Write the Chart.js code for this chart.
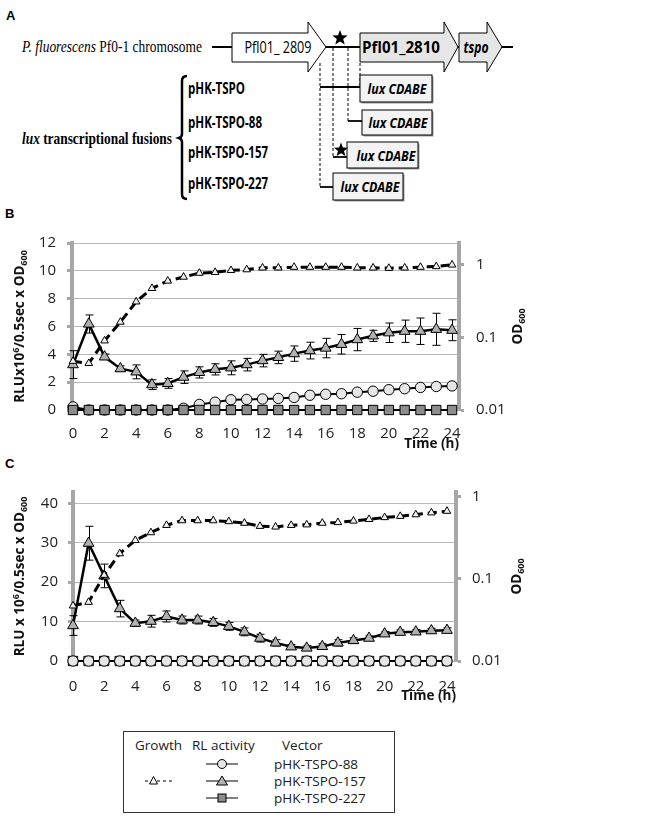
<!DOCTYPE html>
<html>
<head>
<meta charset="utf-8">
<script src="https://cdn.jsdelivr.net/npm/chart.js@4.4.1/dist/chart.umd.min.js"></script>
<style>
  body { margin: 0; background: #fff; }
  #page { position: relative; width: 666px; height: 820px; overflow: hidden; }
  #art { position: absolute; left: 0; top: 0; }
  canvas { position: absolute; }
</style>
</head>
<body>
<div id="page">
  <svg id="art" width="666" height="820" xmlns="http://www.w3.org/2000/svg">
    <!-- panel A: gene map -->
    <text x="6" y="20" font-family="Liberation Sans, Arial" font-weight="bold" font-size="13">A</text>
    <text x="22" y="52" font-family="Liberation Serif" font-size="16" textLength="180" lengthAdjust="spacingAndGlyphs"><tspan font-style="italic">P. fluorescens</tspan> Pf0-1 chromosome</text>
    <line x1="212" y1="47" x2="513" y2="47" stroke="#000" stroke-width="2"/>
    <polygon points="232,33 308,33 308,22 326,47 308,72 308,62 232,62" fill="#fff" stroke="#000" stroke-width="1"/>
    <text x="278" y="53" text-anchor="middle" font-family="Open Sans" font-size="16" textLength="67" lengthAdjust="spacingAndGlyphs">Pfl01_ 2809</text>
    <polygon points="360,33 444,33 444,22 458,47 444,72 444,62 360,62" fill="#e6e6e6" stroke="#000" stroke-width="1"/>
    <text x="401" y="53" text-anchor="middle" font-family="Open Sans" font-weight="bold" font-size="16" textLength="78" lengthAdjust="spacingAndGlyphs">Pfl01_2810</text>
    <polygon points="459,33 487,33 487,22 502,47 487,72 487,62 459,62" fill="#e6e6e6" stroke="#000" stroke-width="1"/>
    <text x="476" y="53" text-anchor="middle" font-family="Open Sans" font-weight="bold" font-style="italic" font-size="16" textLength="25" lengthAdjust="spacingAndGlyphs">tspo</text>
    <polygon id="star1" fill="#000"/>

    <g stroke="#000" stroke-width="1" stroke-dasharray="3,2">
      <line x1="320" y1="63" x2="320" y2="187"/>
      <line x1="333" y1="48" x2="333" y2="157"/>
      <line x1="348" y1="48" x2="348" y2="121"/>
      <line x1="360" y1="63" x2="360" y2="87"/>
    </g>
    <g stroke="#000" stroke-width="1.8">
      <line x1="320" y1="87" x2="360" y2="87"/>
      <line x1="348" y1="121" x2="362" y2="121"/>
      <line x1="333" y1="157" x2="347" y2="157"/>
      <line x1="320" y1="187" x2="333" y2="187"/>
    </g>
    <g fill="#9a9a9a">
      <rect x="361.5" y="76.5" width="72" height="27"/>
      <rect x="363.5" y="111.5" width="70" height="25"/>
      <rect x="348.5" y="143.5" width="71" height="26"/>
      <rect x="334.5" y="174.5" width="70" height="27"/>
    </g>
    <g fill="#f3f3f3" stroke="#000" stroke-width="1">
      <rect x="360" y="75" width="72" height="27"/>
      <rect x="362" y="110" width="70" height="25"/>
      <rect x="347" y="142" width="71" height="26"/>
      <rect x="333" y="173" width="70" height="27"/>
    </g>
    <g font-family="Open Sans" font-weight="bold" font-style="italic" font-size="15" text-anchor="middle">
      <text x="397" y="94" textLength="59" lengthAdjust="spacingAndGlyphs">lux CDABE</text>
      <text x="398" y="128" textLength="59" lengthAdjust="spacingAndGlyphs">lux CDABE</text>
      <text x="386" y="161" textLength="59" lengthAdjust="spacingAndGlyphs">lux CDABE</text>
      <text x="370" y="192" textLength="59" lengthAdjust="spacingAndGlyphs">lux CDABE</text>
    </g>
    <polygon id="star2" fill="#000"/>

    <g font-family="Open Sans" font-weight="bold" font-size="16">
      <text x="188" y="94" textLength="57" lengthAdjust="spacingAndGlyphs">pHK-TSPO</text>
      <text x="188" y="128" textLength="74" lengthAdjust="spacingAndGlyphs">pHK-TSPO-88</text>
      <text x="188" y="158" textLength="80" lengthAdjust="spacingAndGlyphs">pHK-TSPO-157</text>
      <text x="188" y="189" textLength="80" lengthAdjust="spacingAndGlyphs">pHK-TSPO-227</text>
    </g>
    <path d="M187,76 Q182,76 182,81 L182,134 Q182,137 179,138 Q182,139 182,142 L182,194 Q182,199 187,199" fill="none" stroke="#000" stroke-width="2.5"/>
    <text x="22" y="144" font-family="Liberation Serif" font-weight="bold" font-size="17" textLength="150" lengthAdjust="spacingAndGlyphs"><tspan font-style="italic">lux</tspan> transcriptional fusions</text>

    <text x="5" y="218" font-family="Liberation Sans, Arial" font-weight="bold" font-size="13">B</text>
    <text x="5" y="468" font-family="Liberation Sans, Arial" font-weight="bold" font-size="13">C</text>

    <!-- legend -->
    <rect x="123.5" y="731.5" width="271" height="81" fill="#fff" stroke="#333" stroke-width="1"/>
    <g font-family="Open Sans" font-size="13.5" fill="#1a1a1a">
      <text x="135" y="750">Growth</text>
      <text x="192" y="750">RL activity</text>
      <text x="282" y="750">Vector</text>
      <text x="274" y="769">pHK-TSPO-88</text>
      <text x="274" y="786">pHK-TSPO-157</text>
      <text x="274" y="803">pHK-TSPO-227</text>
    </g>
    <g stroke="#000" stroke-width="1">
      <line x1="206" y1="764" x2="238" y2="764"/>
      <line x1="206" y1="781" x2="238" y2="781"/>
      <line x1="206" y1="798" x2="238" y2="798"/>
      <line x1="145" y1="781" x2="174" y2="781" stroke-dasharray="3,3"/>
      <circle cx="222" cy="764" r="4.5" fill="#e6e6e6"/>
      <polygon points="222,776 216.5,785 227.5,785" fill="#b3b3b3"/>
      <rect x="218" y="794" width="8" height="8" fill="#8c8c8c"/>
      <polygon points="153.5,776.5 149.5,784 157.5,784" fill="#fff"/>
    </g>
  </svg>
  <canvas id="chartB" width="540" height="230" style="left:0;top:222px"></canvas>
  <canvas id="chartC" width="540" height="232" style="left:0;top:472px"></canvas>
</div>

<script>
// sampling times (h)
const hours = [0, 1, 2, 3, 4, 5, 6, 7, 8, 9, 10, 11, 12, 13, 14, 15, 16, 17, 18, 19, 20, 21, 22, 23, 24];
const xTicks = [0, 2, 4, 6, 8, 10, 12, 14, 16, 18, 20, 22, 24];
const odTicks = [0.01, 0.1, 1];

// Panel B
const leftTicksB = [0, 2, 4, 6, 8, 10, 12];
const growthB = [0.047, 0.044, 0.090, 0.163, 0.31, 0.475, 0.60, 0.68, 0.77, 0.79, 0.84, 0.86, 0.91, 0.91, 0.93, 0.93, 0.93, 0.93, 0.91, 0.91, 0.90, 0.91, 0.93, 0.95, 1.0];
const rl88B = [0.22, 0, 0, 0, 0, 0, 0, 0.12, 0.40, 0.56, 0.74, 0.76, 0.79, 0.83, 0.90, 1.06, 1.13, 1.17, 1.28, 1.35, 1.46, 1.53, 1.62, 1.69, 1.73];
const rl157B = [3.26, 6.18, 3.82, 2.97, 2.74, 1.82, 1.91, 2.36, 2.70, 2.92, 3.03, 3.26, 3.55, 3.78, 4.05, 4.27, 4.45, 4.72, 5.06, 5.33, 5.55, 5.66, 5.66, 5.80, 5.73];
const rl157ErrB = [1.0, 0.65, 0.2, 0.2, 0.5, 0.35, 0.35, 0.45, 0.4, 0.4, 0.5, 0.45, 0.45, 0.45, 0.55, 0.6, 0.7, 0.7, 0.8, 0.4, 0.7, 0.8, 0.95, 1.15, 0.75];
const rl227B = [0, 0, 0, 0, 0, 0, 0, 0, 0, 0, 0, 0, 0, 0, 0, 0, 0, 0, 0, 0, 0, 0, 0, 0, 0];

// Panel C
const leftTicksC = [0, 10, 20, 30, 40];
const growthC = [0.047, 0.052, 0.111, 0.203, 0.294, 0.366, 0.449, 0.512, 0.512, 0.512, 0.499, 0.477, 0.437, 0.429, 0.449, 0.456, 0.477, 0.486, 0.507, 0.530, 0.559, 0.578, 0.605, 0.638, 0.667];
const rl88C = [0, 0, 0, 0, 0, 0, 0, 0, 0, 0, 0, 0, 0, 0, 0, 0, 0, 0, 0, 0, 0, 0, 0, 0, 0];
const rl157C = [9.0, 29.9, 21.6, 13.3, 9.6, 10.1, 11.3, 10.4, 10.4, 9.8, 8.8, 7.4, 5.8, 4.6, 3.6, 3.3, 3.7, 4.6, 5.2, 5.8, 6.9, 7.3, 7.4, 7.7, 7.8];
const rl157ErrC = [2.5, 4.3, 3.0, 2.1, 0.8, 1.5, 1.4, 1.0, 1.0, 1.0, 1.0, 1.0, 1.0, 0.8, 0.6, 0.6, 0.7, 0.8, 0.7, 0.6, 0.6, 0.6, 0.6, 0.6, 0.6];
const rl227C = [0, 0, 0, 0, 0, 0, 0, 0, 0, 0, 0, 0, 0, 0, 0, 0, 0, 0, 0, 0, 0, 0, 0, 0, 0];

// stars on the map
function starPoints(cx, cy, r) {
  const pts = [];
  for (let i = 0; i < 10; i++) {
    const rr = i % 2 ? r * 0.42 : r;
    const a = -Math.PI / 2 + i * Math.PI / 5;
    pts.push((cx + rr * Math.cos(a)).toFixed(1) + ',' + (cy + rr * Math.sin(a)).toFixed(1));
  }
  return pts.join(' ');
}
document.getElementById('star1').setAttribute('points', starPoints(340, 38, 8));
document.getElementById('star2').setAttribute('points', starPoints(341, 150, 7.5));

Chart.defaults.font.family = "'Open Sans', sans-serif";
Chart.defaults.color = '#222';

const AXIS_GRAY = '#a6a6a6';

function pts(vals) {
  return hours.map((h, i) => ({ x: h, y: vals[i] }));
}

// vertical error bars with caps, behind the markers
const errorBarsPlugin = {
  id: 'errorBars',
  beforeDatasetsDraw(chart) {
    const ctx = chart.ctx;
    ctx.save();
    ctx.strokeStyle = '#000';
    ctx.lineWidth = 1;
    chart.data.datasets.forEach(ds => {
      if (!ds.errors) return;
      const xs = chart.scales.x;
      const ys = chart.scales[ds.yAxisID];
      ds.data.forEach((p, i) => {
        const e = ds.errors[i];
        if (!e) return;
        const px = Math.round(xs.getPixelForValue(p.x)) + 0.5;
        const yTop = ys.getPixelForValue(p.y + e);
        const yBot = ys.getPixelForValue(Math.max(p.y - e, 0));
        ctx.beginPath();
        ctx.moveTo(px, yTop); ctx.lineTo(px, yBot);
        ctx.moveTo(px - 4, yTop); ctx.lineTo(px + 4, yTop);
        ctx.moveTo(px - 4, yBot); ctx.lineTo(px + 4, yBot);
        ctx.stroke();
      });
    });
    ctx.restore();
  }
};

// rotated axis titles with super/subscripts
const richTitlesPlugin = {
  id: 'richTitles',
  afterDraw(chart, args, opts) {
    const ctx = chart.ctx;
    const cy = (chart.chartArea.top + chart.chartArea.bottom) / 2;
    [opts.left, opts.right].forEach(t => {
      if (!t) return;
      const fontFor = p => 'bold ' + (p.sup || p.sub ? 9 : 13.5) + "px 'Open Sans', sans-serif";
      let total = 0;
      t.parts.forEach(p => { ctx.font = fontFor(p); total += ctx.measureText(p.text).width; });
      ctx.save();
      ctx.translate(t.x, cy);
      ctx.rotate(-Math.PI / 2);
      ctx.fillStyle = '#111';
      ctx.textBaseline = 'middle';
      ctx.textAlign = 'left';
      let x = -total / 2;
      t.parts.forEach(p => {
        ctx.font = fontFor(p);
        const dy = p.sup ? -4 : (p.sub ? 4 : 0);
        ctx.fillText(p.text, x, dy);
        x += ctx.measureText(p.text).width;
      });
      ctx.restore();
    });
  }
};

function makeChart(id, cfg) {
  const lineBase = { borderColor: '#000', pointBorderColor: '#000', pointBorderWidth: 1, clip: false, tension: 0 };
  const sets = {
    growth: {
      ...lineBase, label: 'Growth', data: pts(cfg.growth), yAxisID: 'yR',
      borderWidth: 3, borderDash: [9, 5], pointStyle: 'triangle', pointRadius: 4.4,
      pointBackgroundColor: '#efefef'
    },
    tri: {
      ...lineBase, label: 'pHK-TSPO-157', data: pts(cfg.rl157), errors: cfg.rl157Err, yAxisID: 'y',
      borderWidth: 2.5, pointStyle: 'triangle', pointRadius: 6.2, pointBackgroundColor: '#b0b0b0'
    },
    sq: {
      ...lineBase, label: 'pHK-TSPO-227', data: pts(cfg.rl227), yAxisID: 'y',
      borderWidth: 2, pointStyle: 'rect', pointRadius: 6.6, pointBackgroundColor: '#8c8c8c'
    },
    circ: {
      ...lineBase, label: 'pHK-TSPO-88', data: pts(cfg.rl88), yAxisID: 'y',
      borderWidth: 2, pointStyle: 'circle', pointRadius: 5.2, pointBackgroundColor: '#e6e6e6'
    }
  };

  return new Chart(document.getElementById(id), {
    type: 'line',
    data: { datasets: cfg.order.map(k => sets[k]) },
    options: {
      responsive: false,
      animation: false,
      devicePixelRatio: 1,
      layout: { padding: { top: 10, left: 0, right: 0, bottom: 0 } },
      plugins: {
        legend: { display: false },
        tooltip: { enabled: false },
        richTitles: {
          left: { x: 20, parts: cfg.leftTitle },
          right: { x: cfg.rightTitleX, parts: [{ text: 'OD' }, { text: '600', sub: true }] }
        }
      },
      scales: {
        x: {
          type: 'linear',
          min: cfg.xMin, max: cfg.xMax,
          afterBuildTicks: s => { s.ticks = xTicks.map(v => ({ value: v })); },
          afterFit: s => { s.height = cfg.xHeight; },
          grid: { display: false },
          border: { display: false },
          ticks: { font: { size: 15 }, padding: cfg.xPad, maxRotation: 0, color: '#222' },
          title: { display: true, text: 'Time (h)', align: 'end', font: { size: 13.5, weight: 'bold' }, color: '#111', padding: 0 }
        },
        y: {
          position: 'left',
          min: 0, max: cfg.yMax,
          afterBuildTicks: s => { s.ticks = cfg.leftTicks.map(v => ({ value: v })); },
          afterFit: s => { s.width = cfg.leftW; },
          grid: { color: '#b8b8b8', lineWidth: 1, tickLength: 5, tickColor: AXIS_GRAY, tickWidth: 3 },
          border: { display: true, color: AXIS_GRAY, width: 4 },
          ticks: { font: { size: 15 }, padding: cfg.leftPad, color: '#222' }
        },
        yR: {
          type: 'logarithmic',
          position: 'right',
          min: 0.01, max: cfg.odMax,
          afterBuildTicks: s => { s.ticks = odTicks.map(v => ({ value: v })); },
          afterFit: s => { s.width = cfg.rightW; },
          grid: { drawOnChartArea: false, tickLength: 5, color: AXIS_GRAY, tickColor: AXIS_GRAY, tickWidth: 3 },
          border: { display: true, color: AXIS_GRAY, width: 4 },
          ticks: { font: { size: 15 }, padding: cfg.rightPad, color: '#222', callback: v => String(v) }
        }
      }
    },
    plugins: [errorBarsPlugin, richTitlesPlugin]
  });
}

makeChart('chartB', {
  growth: growthB, rl88: rl88B, rl157: rl157B, rl157Err: rl157ErrB, rl227: rl227B,
  order: ['growth', 'tri', 'sq', 'circ'],
  leftTicks: leftTicksB, yMax: 12, odMax: 2.0,
  xMin: -0.063, xMax: 24.44,
  leftW: 72, rightW: 81, xHeight: 42,
  xPad: 7, leftPad: 11, rightPad: 12, rightTitleX: 518,
  leftTitle: [{ text: 'RLUx10' }, { text: '6', sup: true }, { text: '/0.5sec x OD' }, { text: '600', sub: true }]
});

makeChart('chartC', {
  growth: growthC, rl88: rl88C, rl157: rl157C, rl157Err: rl157ErrC, rl227: rl227C,
  order: ['growth', 'tri', 'circ', 'sq'],
  leftTicks: leftTicksC, yMax: 42.9, odMax: 1.14,
  xMin: 0, xMax: 24.58,
  leftW: 73, rightW: 84, xHeight: 43,
  xPad: 9, leftPad: 10, rightPad: 11, rightTitleX: 517,
  leftTitle: [{ text: 'RLU x 10' }, { text: '6', sup: true }, { text: '/0.5sec x OD' }, { text: '600', sub: true }]
});
</script>
</body>
</html>
